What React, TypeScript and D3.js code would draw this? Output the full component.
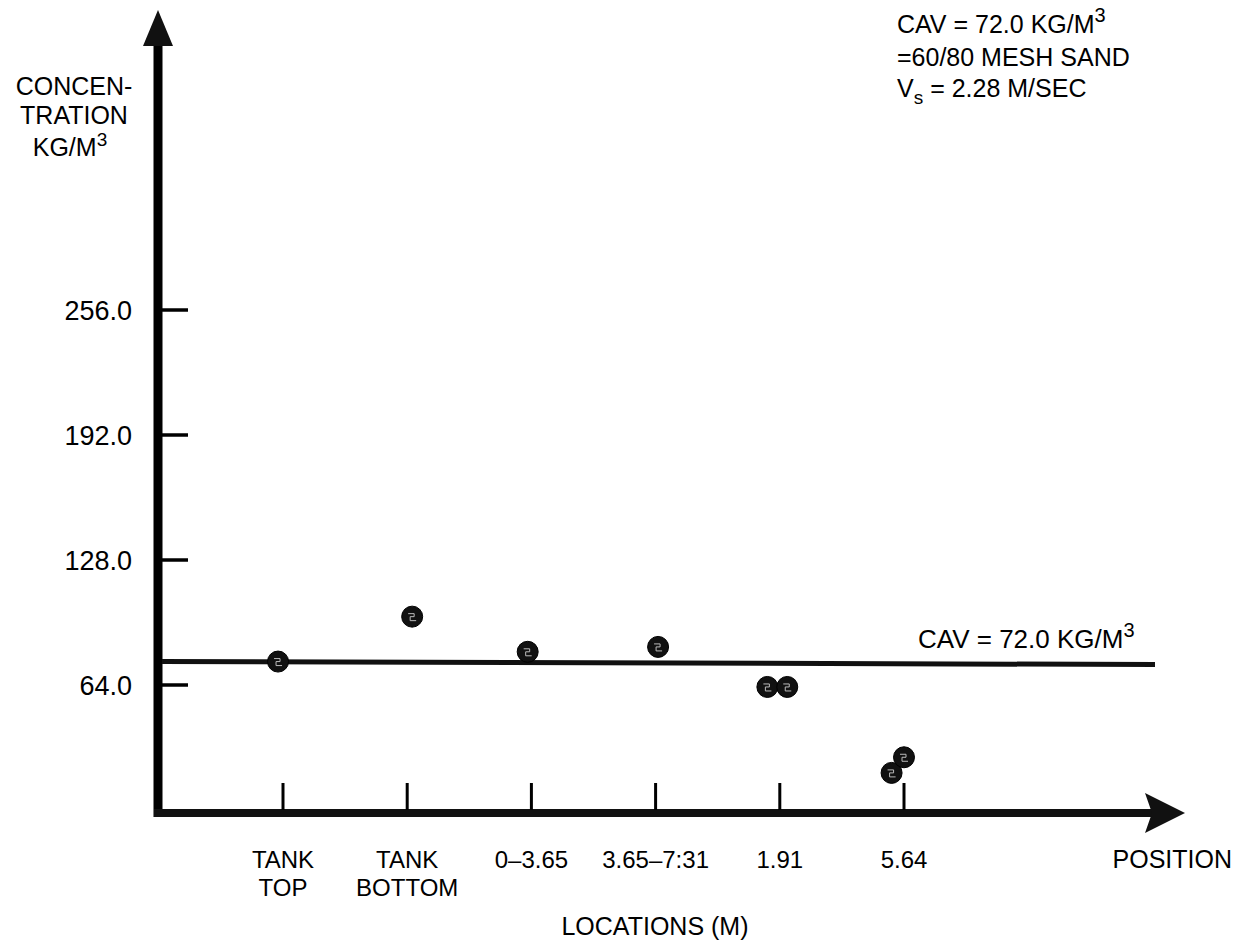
import { useEffect, useRef } from "react";
import * as d3 from "d3";

// x-axis categories (location index 0..5)
const locationLabels: string[][] = [
  ["TANK", "TOP"],
  ["TANK", "BOTTOM"],
  ["0–3.65"],
  ["3.65–7:31"],
  ["1.91"],
  ["5.64"],
];

const yTicks = [64, 128, 192, 256];

// measured points: position along the location axis and concentration (kg/m3)
const pointPos = [-0.04, 1.04, 1.97, 3.02, 3.9, 4.06, 4.9, 5.0];
const pointConc = [76, 99, 81, 83.5, 63, 63, 19, 27];

const cavLevel = 75.5;

const notes = ["CAV = 72.0 KG/M", "=60/80 MESH SAND", "V", "= 2.28 M/SEC"];

export default function App() {
  const svgRef = useRef<SVGSVGElement | null>(null);

  useEffect(() => {
    if (!svgRef.current) return;
    const width = 1238;
    const height = 948;
    const font = "'Liberation Sans', Arial, sans-serif";

    const svg = d3.select(svgRef.current);
    svg.selectAll("*").remove();
    svg.attr("width", width).attr("height", height);

    svg.append("rect").attr("width", width).attr("height", height).attr("fill", "#fff");

    const x = d3.scaleLinear().domain([0, 5]).range([283, 904]);
    const y = d3.scaleLinear().domain([0, 256]).range([810, 310]);

    const axisX = 158;
    const y0 = y(0) + 3;

    // y axis line + arrow head
    svg.append("line")
      .attr("x1", axisX).attr("x2", axisX)
      .attr("y1", 40).attr("y2", y0 + 4)
      .attr("stroke", "#000").attr("stroke-width", 9);
    svg.append("path")
      .attr("d", `M${axisX},10 L${axisX - 15},46 L${axisX + 15},46 Z`)
      .attr("fill", "#111");

    // x axis line + arrow head
    svg.append("line")
      .attr("x1", axisX - 4).attr("x2", 1160)
      .attr("y1", y0).attr("y2", y0)
      .attr("stroke", "#111").attr("stroke-width", 8);
    svg.append("path")
      .attr("d", `M1185,${y0} L1145,${y0 - 20} L1152,${y0} L1145,${y0 + 20} Z`)
      .attr("fill", "#111");

    // y ticks
    const yg = svg.append("g");
    yg.selectAll("line")
      .data(yTicks)
      .enter()
      .append("line")
      .attr("x1", axisX + 3).attr("x2", axisX + 30)
      .attr("y1", d => y(d)).attr("y2", d => y(d))
      .attr("stroke", "#000").attr("stroke-width", 3.5);
    yg.selectAll("text")
      .data(yTicks)
      .enter()
      .append("text")
      .attr("x", 132)
      .attr("y", d => y(d) + 10)
      .attr("text-anchor", "end")
      .attr("font-family", font)
      .attr("font-size", 27)
      .text(d => d.toFixed(1));

    // x ticks
    const xg = svg.append("g");
    xg.selectAll("line")
      .data(locationLabels)
      .enter()
      .append("line")
      .attr("x1", (_, i) => x(i)).attr("x2", (_, i) => x(i))
      .attr("y1", y0 - 30).attr("y2", y0 - 3)
      .attr("stroke", "#000").attr("stroke-width", 3);
    xg.selectAll("text")
      .data(locationLabels)
      .enter()
      .append("text")
      .attr("x", (_, i) => x(i))
      .attr("y", 868)
      .attr("text-anchor", "middle")
      .attr("font-family", font)
      .attr("font-size", 24)
      .each(function (d) {
        d.forEach((t, k) => {
          d3.select(this).append("tspan")
            .attr("x", d3.select(this).attr("x"))
            .attr("dy", k === 0 ? 0 : 28)
            .text(t);
        });
      });

    svg.append("text")
      .attr("x", 1232).attr("y", 868)
      .attr("text-anchor", "end")
      .attr("font-family", font).attr("font-size", 25)
      .text("POSITION");
    svg.append("text")
      .attr("x", 655).attr("y", 935)
      .attr("text-anchor", "middle")
      .attr("font-family", font).attr("font-size", 25)
      .text("LOCATIONS (M)");

    // y title
    const tx = 74;
    const yt = svg.append("text")
      .attr("x", tx).attr("y", 95)
      .attr("text-anchor", "middle")
      .attr("font-family", font).attr("font-size", 25);
    yt.append("tspan").attr("x", tx).attr("dy", 0).text("CONCEN-");
    yt.append("tspan").attr("x", tx).attr("dy", 29).text("TRATION");
    const kg = yt.append("tspan").attr("x", tx - 4).attr("dy", 32).text("KG/M");
    kg.append("tspan").attr("dy", -10).attr("font-size", 19).text("3");

    // CAV line
    svg.append("line")
      .attr("x1", axisX + 4).attr("x2", 1155)
      .attr("y1", y(cavLevel) - 1).attr("y2", y(cavLevel) + 2)
      .attr("stroke", "#111").attr("stroke-width", 5);
    svg.append("text")
      .attr("x", 918).attr("y", 648)
      .attr("font-family", font).attr("font-size", 26)
      .text("CAV = 72.0 KG/M")
      .append("tspan").attr("dy", -11).attr("font-size", 20).text("3");

    // top right notes
    const nt = svg.append("g").attr("font-family", font).attr("font-size", 25);
    nt.append("text").attr("x", 897).attr("y", 33).text(notes[0])
      .append("tspan").attr("dy", -11).attr("font-size", 20).text("3");
    nt.append("text").attr("x", 897).attr("y", 66).text(notes[1]);
    const vs = nt.append("text").attr("x", 897).attr("y", 97).text(notes[2]);
    vs.append("tspan").attr("dy", 7).attr("font-size", 19).text("s");
    vs.append("tspan").attr("dy", -7).text(" " + notes[3]);

    // points
    const pts = pointPos.map((p, i) => ({ p, c: pointConc[i] }));
    svg.append("g")
      .selectAll("circle")
      .data(pts)
      .enter()
      .append("circle")
      .attr("cx", d => x(d.p))
      .attr("cy", d => y(d.c))
      .attr("r", 10.5)
      .attr("fill", "#111")
      .attr("stroke", "#000")
      .attr("stroke-width", 1);
    svg.append("g")
      .selectAll("path")
      .data(pts)
      .enter()
      .append("path")
      .attr("d", d => {
        const cx = x(d.p), cy = y(d.c);
        return `M${cx - 4},${cy - 3} h6 v3 h-4 v4 h6`;
      })
      .attr("fill", "none")
      .attr("stroke", "#bbb")
      .attr("stroke-width", 1);
  }, []);

  return (
    <svg
      ref={svgRef}
      style={{ position: "absolute", left: 0, top: 0, display: "block" }}
    ></svg>
  );
}
